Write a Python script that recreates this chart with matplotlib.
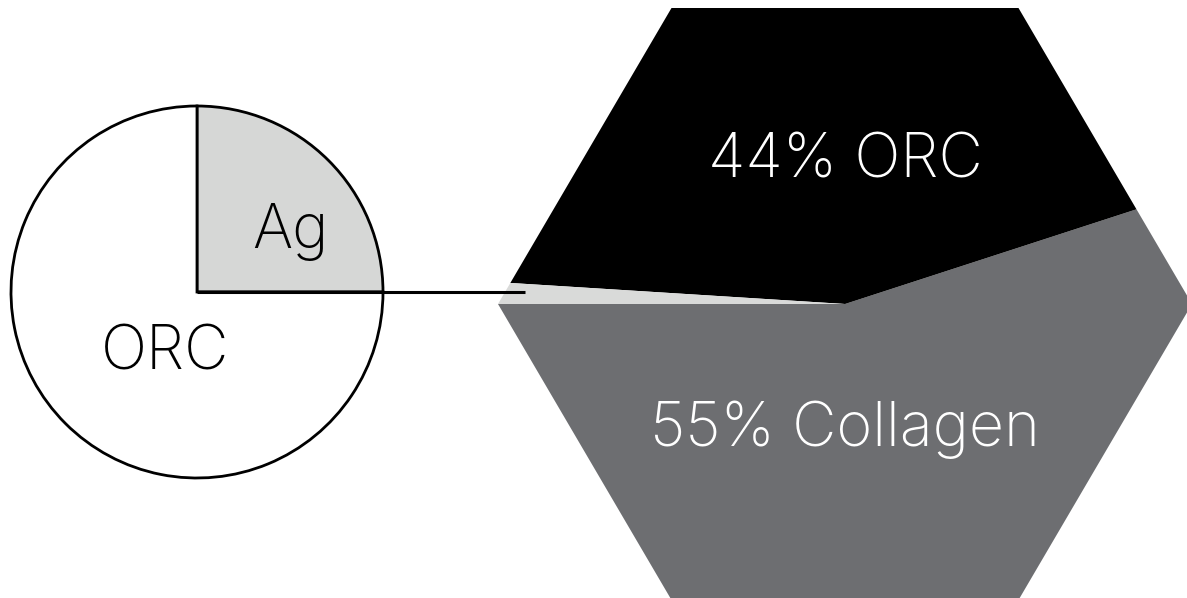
import numpy as np
import matplotlib.pyplot as plt
from matplotlib.patches import Polygon

# Data
pie_labels = ['Ag', 'ORC']
pie_values = [25, 75]
hex_labels = ['Collagen', 'ORC', 'Ag']
hex_values = [55, 44, 1]

W, H = 1187, 598
fig = plt.figure(figsize=(W / 100, H / 100), dpi=100)
ax = fig.add_axes([0, 0, 1, 1])

# small pie on the left
pie_c = (197, H - 292)
pie_r = 186
ax.pie(pie_values, colors=['#d6d7d6', 'white'], startangle=0, counterclock=True,
       center=pie_c, radius=pie_r,
       wedgeprops=dict(edgecolor='black', linewidth=2))

# hexagon split like a pie
hex_c = (845, H - 304)
hex_R, hex_h = 347, 296
verts = [(hex_c[0] + hex_R, hex_c[1]), (hex_c[0] + hex_R / 2, hex_c[1] + hex_h),
         (hex_c[0] - hex_R / 2, hex_c[1] + hex_h), (hex_c[0] - hex_R, hex_c[1]),
         (hex_c[0] - hex_R / 2, hex_c[1] - hex_h), (hex_c[0] + hex_R / 2, hex_c[1] - hex_h)]
hexagon = Polygon(verts, closed=True, facecolor='none', edgecolor='none')
ax.add_patch(hexagon)
wedges, _ = ax.pie(hex_values, colors=['#6d6e71', '#000000', '#d9dad9'], startangle=180,
                   counterclock=True, center=hex_c, radius=450,
                   wedgeprops=dict(linewidth=0))
for w in wedges:
    w.set_clip_on(True)
    w.set_clip_path(hexagon)

# connector line from the pie to the hexagon
ax.plot([pie_c[0], hex_c[0] - hex_R + 27], [pie_c[1], pie_c[1]], color='black', lw=2.2,
        solid_capstyle='butt', zorder=5)

font = dict(family=['Inter', 'DejaVu Sans'], fontweight='light', fontsize=44)
ax.text(290, H - 232, 'Ag', ha='center', va='center', color='black', **font)
ax.text(165, H - 354, 'ORC', ha='center', va='center', color='black', **font)
ax.text(845, H - 162, '44% ORC', ha='center', va='center', color='white', **font)
ax.text(845, H - 430, '55% Collagen', ha='center', va='center', color='white', **font)

ax.set_xlim(0, W)
ax.set_ylim(0, H)
ax.set_aspect('equal')
ax.axis('off')
fig.savefig('out.png', dpi=100)
